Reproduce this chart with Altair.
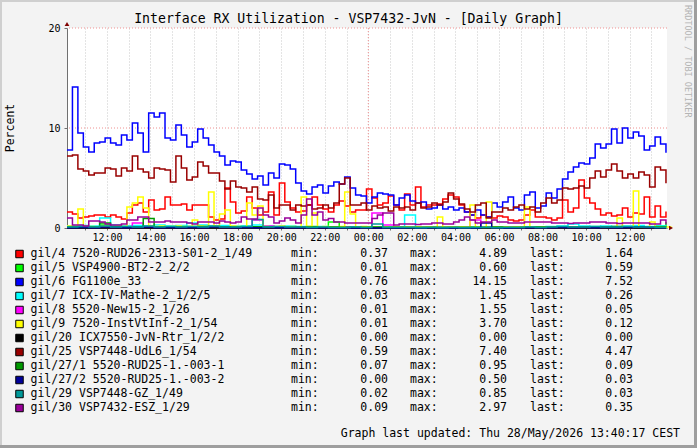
import altair as alt
import pandas as pd

FONT = "DejaVu Sans Mono"

# time axis: hours since 27 May 00:00
T0 = 10 + 10 / 60.0
T_END = 37.714
STEP_FINE = 0.25     # 15 min
STEP_COARSE = 0.5    # 30 min

title_text = "Interface RX Utilization - VSP7432-JvN - [Daily Graph]"
footer_text = "Graph last updated: Thu 28/May/2026 13:40:17 CEST"
side_text = "RRDTOOL / TOBI OETIKER"
y_label = "Percent"

names = [
    "gil/4 7520-RUD26-2313-S01-2_1/49",
    "gil/5 VSP4900-BT2-2_2/2",
    "gil/6 FG1100e_33",
    "gil/7 ICX-IV-Mathe-2_1/2/5",
    "gil/8 5520-New15-2_1/26",
    "gil/9 7520-InstVtInf-2_1/54",
    "gil/20 ICX7550-JvN-Rtr_1/2/2",
    "gil/25 VSP7448-UdL6_1/54",
    "gil/27/1 5520-RUD25-1.-003-1",
    "gil/27/2 5520-RUD25-1.-003-2",
    "gil/29 VSP7448-GZ_1/49",
    "gil/30 VSP7432-ESZ_1/29",
]
colors = ["#FF0000", "#00FF00", "#0000FF", "#00FFFF", "#FF00FF", "#FFFF00",
          "#000000", "#990000", "#009900", "#000099", "#009999", "#990099"]
mins = [0.37, 0.01, 0.76, 0.03, 0.01, 0.01, 0.00, 0.59, 0.07, 0.00, 0.02, 0.09]
maxs = [4.89, 0.60, 14.15, 1.45, 1.55, 3.70, 0.00, 7.40, 0.95, 0.50, 0.85, 2.97]
lasts = [1.64, 0.59, 7.52, 0.26, 0.05, 0.12, 0.00, 4.47, 0.09, 0.03, 0.03, 0.35]

# ---- 15-minute series ----
s_red = [
    1.6, 1.4, 1.0, 1.1, 1.2, 1.3, 1.3, 1.1, 1.3, 1.1, 0.9, 1.5, 2.3, 2.5, 1.6, 2.8, 1.8, 1.9, 3.1, 2.3, 2.3, 2.4, 1.8,
    2.3, 2.3, 2.3, 1.1, 0.8, 0.9, 4.0, 2.6, 1.5, 1.7, 3.1, 2.0, 1.3, 1.6, 3.6, 1.3, 4.5, 2.6, 2.0, 1.6, 1.7, 2.3,
    3.1, 2.3, 1.9, 1.6, 2.3, 2.7, 2.2, 1.6, 1.8, 1.8, 3.9, 3.0, 2.3, 2.5, 3.2, 2.3, 1.8, 3.4, 2.3, 4.1, 2.1, 2.3,
    2.3, 2.4, 2.9, 3.3, 3.1, 2.3, 1.6, 1.3, 1.0, 1.3, 1.1, 1.0, 1.2, 1.1, 0.8, 0.7, 0.8, 1.3, 1.8, 1.1, 1.1, 1.0,
    0.8, 1.0, 2.8, 1.6, 2.0, 4.8, 3.0, 2.5, 1.9, 1.3, 1.5, 1.2, 1.3, 2.0, 1.1, 1.5, 1.4, 3.1, 1.1, 2.2, 1.1, 1.64,
]
s_blue = [
    7.8, 14.1, 9.5, 8.1, 7.6, 8.5, 8.6, 9.0, 8.5, 8.3, 9.3, 8.8, 10.5, 9.5, 7.6, 11.5, 11.1, 11.5, 9.0, 8.8, 10.3, 9.3, 8.1,
    8.6, 9.9, 9.0, 8.3, 7.6, 7.2, 6.3, 6.7, 6.6, 5.8, 5.4, 4.9, 5.2, 4.3, 5.5, 5.0, 6.4, 6.3, 5.9, 4.5, 3.7, 3.4,
    4.1, 4.3, 3.5, 4.2, 4.6, 4.4, 5.1, 4.0, 3.3, 3.2, 2.5, 3.1, 3.5, 3.4, 3.3, 2.3, 3.0, 3.3, 2.7, 2.5, 2.6, 1.9,
    2.0, 2.3, 1.9, 2.1, 1.8, 2.0, 1.6, 1.3, 1.8, 1.3, 1.1, 2.5, 2.1, 2.6, 3.1, 2.0, 1.8, 3.3, 3.6, 2.0, 2.2, 3.5,
    3.0, 3.9, 4.9, 5.6, 6.1, 6.5, 6.4, 7.0, 8.4, 8.0, 8.4, 9.9, 8.5, 10.0, 9.0, 9.6, 9.2, 7.8, 8.2, 9.1, 8.4, 7.52,
]
s_yellow = [
    0.20, 0.15, 1.90, 0.20, 0.15, 0.10, 0.20, 0.15, 0.10, 0.20, 0.15, 2.10, 2.50, 3.10, 2.00, 0.20, 0.15, 0.20, 0.10, 0.15, 0.20, 0.15, 0.10,
    0.80, 0.20, 0.15, 3.60, 0.20, 1.40, 1.80, 0.20, 0.15, 0.10, 2.50, 1.30, 2.20, 0.15, 0.10, 0.15, 0.20, 0.10, 0.15, 0.10, 3.10, 0.15, 1.50,
    0.10, 0.15, 0.10, 0.10, 0.15, 3.60, 1.40, 0.10, 0.15, 0.10, 0.10, 0.05, 0.10, 0.05, 0.10, 0.05, 0.10, 0.05, 0.10, 0.05, 0.10, 0.05,
    1.10, 0.05, 0.10, 0.05, 0.10, 0.05, 2.30, 0.10, 0.05, 2.60, 0.10, 0.05, 0.10, 0.05, 0.10, 0.05, 2.10, 0.10, 0.05, 0.10, 0.05, 0.10,
    0.05, 0.10, 0.05, 0.10, 0.05, 0.10, 0.05, 0.10, 0.05, 0.10, 0.05, 1.00, 0.10, 0.05, 3.70, 0.10, 0.05, 0.60, 0.10, 0.05, 0.10, 0.12,
]
s_darkred = [
    7.2, 7.3, 5.9, 5.7, 5.3, 5.5, 5.5, 6.0, 5.9, 5.2, 6.0, 5.7, 7.2, 5.9, 5.6, 5.0, 6.0, 5.9, 5.8, 4.6, 7.2, 6.0, 4.8,
    5.1, 6.6, 6.2, 5.5, 5.5, 4.7, 3.9, 4.7, 4.1, 4.0, 3.6, 4.1, 2.9, 2.8, 3.3, 2.0, 2.3, 2.3, 1.8, 2.3, 2.2, 2.3,
    1.9, 2.0, 2.3, 2.0, 2.5, 4.4, 5.0, 2.3, 2.3, 2.5, 1.8, 2.2, 2.0, 2.1, 1.7, 2.1, 2.0, 2.1, 1.8, 2.5, 2.0, 2.1,
    2.5, 2.3, 2.6, 3.5, 2.9, 2.4, 1.9, 1.6, 2.3, 2.5, 1.0, 1.6, 1.6, 2.0, 1.8, 2.1, 2.3, 1.9, 2.1, 1.6, 2.5, 3.0,
    2.5, 2.8, 4.0, 3.9, 4.0, 4.2, 4.0, 5.0, 5.7, 5.1, 5.8, 6.4, 5.7, 5.0, 5.4, 5.0, 5.6, 5.3, 4.1, 6.1, 5.8, 4.47,
]
s_purple = [
    1.00, 0.30, 0.30, 0.20, 0.70, 0.70, 0.60, 0.40, 0.30, 0.30, 0.40, 0.80, 0.80, 1.10, 1.10, 0.60, 0.60, 0.60, 0.70, 0.60, 0.60, 0.60, 0.50,
    0.40, 0.60, 0.60, 0.60, 0.50, 0.70, 0.60, 0.50, 0.60, 1.10, 0.90, 0.90, 2.00, 1.30, 1.10, 0.50, 0.70, 1.00, 0.80, 0.50, 1.30, 2.90,
    1.30, 1.60, 0.80, 0.95, 0.60, 0.60, 0.50, 0.50, 0.50, 0.50, 0.50, 0.95, 1.30, 1.50, 1.50, 0.30, 0.40, 0.40, 0.40, 0.35, 0.40, 0.40,
    0.50, 0.50, 0.40, 0.40, 0.60, 0.80, 1.10, 0.80, 0.50, 0.60, 0.60, 0.80, 0.60, 0.60, 0.50, 0.50, 0.50, 0.60, 0.60, 0.60, 0.60, 0.60,
    0.50, 0.50, 0.50, 0.45, 0.50, 0.50, 0.50, 0.60, 0.60, 0.60, 0.50, 0.50, 0.45, 0.50, 0.50, 0.50, 0.50, 0.50, 0.40, 0.40, 0.80, 0.35,
]

# ---- 30-minute series ----
s_green = [
    0.10, 0.12, 0.10, 0.30, 0.12, 0.10, 0.15, 0.12, 0.10, 0.10, 0.12, 0.15, 0.10, 0.10, 0.12, 0.10, 0.15, 0.10, 0.12, 0.10,
    0.10, 0.12, 0.15, 0.10, 0.60, 0.10, 0.08, 0.10, 0.05, 0.05, 0.08, 0.05, 0.05, 0.08, 0.05, 0.05, 0.05, 0.08, 0.05, 0.05,
    0.05, 0.08, 0.10, 0.05, 0.08, 0.10, 0.12, 0.10, 0.08, 0.10, 0.12, 0.10, 0.08, 0.10, 0.20, 0.59,
]
s_cyan = [
    0.20, 0.25, 0.20, 1.00, 0.30, 0.20, 0.25, 0.20, 0.30, 0.20, 0.25, 0.50, 0.30, 0.20, 0.25, 0.20, 0.20, 0.30, 0.20, 0.15,
    0.20, 0.15, 0.10, 0.15, 0.10, 0.10, 0.10, 0.08, 0.10, 0.10, 0.08, 1.30, 0.08, 0.05, 0.05, 0.08, 0.05, 0.05, 0.08, 0.10,
    0.05, 0.05, 0.08, 0.10, 0.15, 0.20, 0.40, 0.20, 0.15, 0.20, 0.15, 0.20, 0.25, 0.15, 0.20, 0.26,
]
s_magenta = [
    0.05, 0.10, 0.05, 0.10, 0.05, 0.05, 0.50, 0.10, 0.05, 0.05, 0.10, 0.05, 0.05, 0.10, 0.05, 0.05, 0.10, 0.80, 0.20, 0.05,
    0.05, 0.10, 0.05, 0.05, 0.05, 0.10, 0.05, 0.05, 1.50, 0.30, 0.05, 0.05, 0.05, 0.05, 0.05, 0.05, 0.05, 0.80, 0.05, 0.05,
    0.05, 0.05, 0.05, 0.05, 0.05, 0.05, 0.10, 0.05, 0.05, 0.05, 0.05, 0.05, 0.10, 0.05, 0.05, 0.05,
]
s_black = [
    0.0, 0.0, 0.0, 0.0, 0.0, 0.0, 0.0, 0.0, 0.0, 0.0, 0.0, 0.0, 0.0, 0.0, 0.0, 0.0, 0.0, 0.0, 0.0, 0.0,
    0.0, 0.0, 0.0, 0.0, 0.0, 0.0, 0.0, 0.0, 0.0, 0.0, 0.0, 0.0, 0.0, 0.0, 0.0, 0.0, 0.0, 0.0, 0.0, 0.0,
    0.0, 0.0, 0.0, 0.0, 0.0, 0.0, 0.0, 0.0, 0.0, 0.0, 0.0, 0.0, 0.0, 0.0, 0.0, 0.0,
]
s_green2 = [
    0.10, 0.12, 0.10, 0.50, 0.15, 0.10, 0.12, 0.95, 0.10, 0.12, 0.10, 0.10, 0.15, 0.10, 0.12, 0.10, 0.10, 0.12, 0.10, 0.10,
    0.08, 0.10, 0.10, 0.08, 0.10, 0.08, 0.07, 0.08, 0.10, 0.08, 0.07, 0.08, 0.07, 0.08, 0.07, 0.07, 0.08, 0.07, 0.08, 0.10,
    0.08, 0.07, 0.08, 0.10, 0.10, 0.12, 0.10, 0.10, 0.12, 0.10, 0.15, 0.10, 0.12, 0.10, 0.10, 0.09,
]
s_navy = [
    0.03, 0.05, 0.03, 0.10, 0.05, 0.03, 0.05, 0.10, 0.03, 0.05, 0.03, 0.05, 0.03, 0.10, 0.05, 0.03, 0.05, 0.03, 0.05, 0.03,
    0.03, 0.02, 0.03, 0.02, 0.03, 0.02, 0.00, 0.02, 0.00, 0.02, 0.00, 0.02, 0.00, 0.02, 0.00, 0.00, 0.02, 0.00, 0.50, 0.02,
    0.00, 0.02, 0.03, 0.02, 0.03, 0.05, 0.03, 0.05, 0.03, 0.05, 0.03, 0.05, 0.10, 0.05, 0.03, 0.03,
]
s_teal = [
    0.10, 0.15, 0.10, 0.20, 0.10, 0.15, 0.10, 0.20, 0.10, 0.15, 0.10, 0.15, 0.10, 0.20, 0.10, 0.10, 0.15, 0.85, 0.10, 0.15,
    0.10, 0.10, 0.05, 0.10, 0.05, 0.05, 0.10, 0.05, 0.40, 0.05, 0.05, 0.05, 0.02, 0.05, 0.02, 0.05, 0.02, 0.05, 0.05, 0.02,
    0.05, 0.05, 0.10, 0.05, 0.10, 0.15, 0.10, 0.10, 0.15, 0.10, 0.10, 0.15, 0.10, 0.10, 0.05, 0.03,
]

series_values = [s_red, s_green, s_blue, s_cyan, s_magenta, s_yellow,
                 s_black, s_darkred, s_green2, s_navy, s_teal, s_purple]

major_y = [10, 20]
major_x = [24]          # midnight
hour_ticks = list(range(11, 38))

# ---------------------------------------------------------------
x_scale = alt.Scale(domain=[T0, T_END], nice=False, zero=False)
y_scale = alt.Scale(domain=[0, 20], nice=False, zero=True)

x_axis = alt.Axis(
    values=hour_ticks, title=None, grid=True, gridColor="#C8C8C8", gridDash=[1, 2],
    gridWidth=1, domainColor="#707070", tickColor="#707070", tickSize=2,
    labelFont=FONT, labelFontSize=10, labelColor="#000000", labelPadding=2,
    labelFlush=False, labelOverlap=False,
    labelExpr="datum.value % 2 == 0 ? ((datum.value % 24) < 10 ? '0' : '') + (datum.value % 24) + ':00' : ''",
)
y_axis = alt.Axis(
    values=[0, 10, 20], title=None, grid=False, domainColor="#707070",
    tickColor="#707070", tickSize=3, labelFont=FONT, labelFontSize=10,
    labelColor="#000000", labelPadding=4, labelFlush=False,
)

layers = []

# red major grid
layers.append(
    alt.Chart(pd.DataFrame({"v": major_y})).mark_rule(color="#F09090", strokeDash=[1, 2], strokeWidth=1)
    .encode(y=alt.Y("v:Q", scale=y_scale, axis=y_axis))
)
layers.append(
    alt.Chart(pd.DataFrame({"t": major_x})).mark_rule(color="#F09090", strokeDash=[1, 2], strokeWidth=1)
    .encode(x=alt.X("t:Q", scale=x_scale, axis=x_axis))
)

for vals, col in zip(series_values, colors):
    step = STEP_FINE if len(vals) > 60 else STEP_COARSE
    df = pd.DataFrame({"t": [T0 + step * i for i in range(len(vals))], "v": vals})
    layers.append(
        alt.Chart(df).mark_line(interpolate="step-after", color=col, strokeWidth=1.5)
        .encode(x=alt.X("t:Q", scale=x_scale, axis=x_axis),
                y=alt.Y("v:Q", scale=y_scale, axis=None))
    )

# axis arrows
one = pd.DataFrame({"a": [0]})
layers.append(alt.Chart(one).mark_point(shape="triangle-up", filled=True, size=22, color="#7F0000", opacity=1)
              .encode(x=alt.value(0), y=alt.value(-4)))
layers.append(alt.Chart(one).mark_point(shape="triangle-right", filled=True, size=22, color="#7F0000", opacity=1)
              .encode(x=alt.value(604), y=alt.value(200)))

# title, y label, footer, side text
layers.append(alt.Chart(pd.DataFrame({"s": [title_text]})).mark_text(font=FONT, fontSize=13.2, align="center", baseline="middle", color="#000000")
              .encode(text="s:N", x=alt.value(281.5), y=alt.value(-9)))
layers.append(alt.Chart(pd.DataFrame({"s": [y_label]})).mark_text(font=FONT, fontSize=11.5, align="center", baseline="middle", angle=270, color="#000000")
              .encode(text="s:N", x=alt.value(-56), y=alt.value(100)))
layers.append(alt.Chart(pd.DataFrame({"s": [footer_text]})).mark_text(font=FONT, fontSize=11.5, align="right", baseline="middle", color="#000000")
              .encode(text="s:N", x=alt.value(613), y=alt.value(406)))
layers.append(alt.Chart(pd.DataFrame({"s": [side_text]})).mark_text(font=FONT, fontSize=8.5, align="left", baseline="middle", angle=90, color="#B4B4B4")
              .encode(text="s:N", x=alt.value(621), y=alt.value(-23)))

# frame (3D border)
layers.append(alt.Chart(one).mark_rule(color="#CFCFCF", strokeWidth=2).encode(x=alt.value(-66), y=alt.value(-28), y2=alt.value(420)))
layers.append(alt.Chart(one).mark_rule(color="#CFCFCF", strokeWidth=2).encode(x=alt.value(-67), x2=alt.value(630), y=alt.value(-27)))
layers.append(alt.Chart(one).mark_rule(color="#9E9E9E", strokeWidth=3).encode(x=alt.value(628.5), y=alt.value(-28), y2=alt.value(420)))
layers.append(alt.Chart(one).mark_rule(color="#9E9E9E", strokeWidth=3).encode(x=alt.value(-67), x2=alt.value(630), y=alt.value(418.5)))

# legend table
leg = pd.DataFrame({"row": list(range(len(names))), "name": names, "col": colors,
                    "mn": mins, "mx": maxs, "ls": lasts})
ly = alt.Y("row:Q", scale=alt.Scale(domain=[0, 11], range=[226, 380]), axis=None)
base = alt.Chart(leg)
layers.append(base.mark_square(size=56, strokeWidth=1, stroke="#000000", opacity=1, filled=True)
              .encode(x=alt.value(-47.5), y=ly, fill=alt.Fill("col:N", scale=None)))
txt = dict(font=FONT, fontSize=11.5, baseline="middle", color="#000000")
layers.append(base.mark_text(align="left", **txt).encode(x=alt.value(-36.5), y=ly, text="name:N"))
layers.append(base.mark_text(align="left", text="min:", **txt).encode(x=alt.value(224), y=ly))
layers.append(base.mark_text(align="right", **txt).encode(x=alt.value(321), y=ly, text=alt.Text("mn:Q", format=".2f")))
layers.append(base.mark_text(align="left", text="max:", **txt).encode(x=alt.value(343), y=ly))
layers.append(base.mark_text(align="right", **txt).encode(x=alt.value(440), y=ly, text=alt.Text("mx:Q", format=".2f")))
layers.append(base.mark_text(align="left", text="last:", **txt).encode(x=alt.value(463), y=ly))
layers.append(base.mark_text(align="right", **txt).encode(x=alt.value(566), y=ly, text=alt.Text("ls:Q", format=".2f")))

chart = (
    alt.layer(*layers)
    .resolve_scale(y="independent")
    .properties(width=600, height=200,
                autosize=alt.AutoSizeParams(type="none"),
                padding={"left": 67, "top": 28, "right": 30, "bottom": 220})
    .configure(background="#F3F3F3")
    .configure_view(fill="#FFFFFF", stroke=None)
)

chart.save("out.html", embed_options={"renderer": "svg", "actions": False})
